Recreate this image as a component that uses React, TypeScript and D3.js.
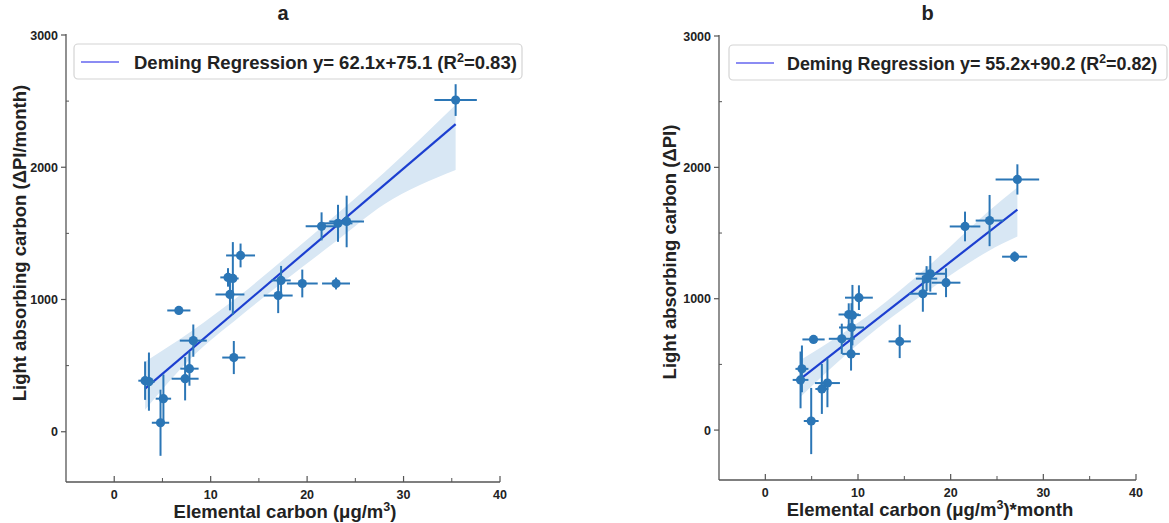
import React from "react";
import * as d3 from "d3";

// ---------- Panel a data ----------
const aX = [35.4, 21.5, 23.2, 24.1, 13.1, 11.8, 12.3, 12.0, 17.3, 17.0, 19.5, 23.0, 6.7, 8.2, 12.4, 7.8, 7.35, 3.2, 3.6, 5.1, 4.8];
const aY = [2508, 1553, 1576, 1590, 1333, 1167, 1159, 1038, 1144, 1030, 1121, 1121, 917, 689, 561, 477, 401, 386, 379, 250, 68];
const aXErr = [2.2, 1.65, 1.5, 1.8, 1.5, 0.8, 0.6, 1.5, 1.0, 1.5, 1.6, 1.45, 1.2, 1.4, 1.2, 0.95, 1.4, 0.7, 0.6, 0.8, 0.9];
const aYErr = [120, 106, 140, 195, 90, 70, 275, 120, 110, 133, 105, 45, 30, 122, 125, 129, 164, 145, 220, 183, 250];
const aLineX = [3.2, 35.4];
const aLineY = [326, 2326];
const aBandX = [3.2, 8, 13, 18, 23, 28, 35.4];
const aBandHi = [530, 760, 1030, 1330, 1640, 1960, 2472];
const aBandLo = [167, 560, 870, 1160, 1440, 1720, 1980];

// ---------- Panel b data ----------
const bX = [27.2, 21.55, 24.2, 26.9, 17.8, 17.4, 19.5, 17.0, 10.1, 9.0, 9.4, 9.3, 9.25, 8.25, 5.2, 14.5, 3.95, 3.8, 6.1, 6.7, 4.95];
const bY = [1908, 1550, 1595, 1320, 1190, 1153, 1122, 1038, 1008, 880, 875, 781, 580, 695, 690, 675, 466, 382, 313, 358, 69];
const bXErr = [2.35, 1.65, 1.5, 1.35, 1.6, 1.15, 1.55, 1.5, 1.5, 1.1, 0.9, 1.35, 0.95, 1.4, 1.2, 1.2, 0.7, 0.85, 0.7, 1.35, 0.8];
const bYErr = [115, 113, 195, 40, 136, 95, 110, 137, 94, 85, 230, 185, 127, 115, 25, 127, 178, 216, 190, 184, 252];
const bLineX = [3.8, 27.2];
const bLineY = [390, 1679];
const bBandX = [3.8, 8, 12, 16, 20, 24, 27.2];
const bBandHi = [534, 720, 920, 1150, 1400, 1660, 1847];
const bBandLo = [254, 530, 770, 980, 1180, 1360, 1473];

const xTicks = [0, 10, 20, 30, 40];
const xMinor = [5, 15, 25, 35];
const yTicks = [0, 1000, 2000, 3000];
const yMinor = [500, 1500, 2500];

const FONT = "Arial, 'Liberation Sans', Helvetica, sans-serif";
const PT = "#2b76b6";
const LINE = "#1c3fd0";
const BAND = "#d8e7f4";
const AX = "#555";
const TXT = "#222";

type PanelProps = {
  xs: number[]; ys: number[]; xe: number[]; ye: number[];
  lx: number[]; ly: number[];
  bx: number[]; bhi: number[]; blo: number[];
  x0: number; x1: number; yTop: number; yBot: number;
  title: string; slope: string; icpt: string; r2: string;
  legX: number; legW: number; legY: number; legFont: number; legText: number;
  yLabel: string; yLabelX: number; yLabelY: number;
  xLabelMain: string; xLabelTail: string; xLabelX: number;
};

function Panel(p: PanelProps) {
  const x = d3.scaleLinear().domain([-5, 40]).range([p.x0, p.x1]);
  const y = d3.scaleLinear().domain([-380, 3000]).range([p.yBot, p.yTop]);
  const idx = d3.range(p.xs.length);
  const area = d3.area<number>()
    .x((i) => x(p.bx[i]))
    .y0((i) => y(p.blo[i]))
    .y1((i) => y(p.bhi[i]))
    .curve(d3.curveMonotoneX);
  const line = d3.line<number>().x((i) => x(p.lx[i])).y((i) => y(p.ly[i]));
  const midX = (p.x0 + p.x1) / 2;
  return (
    <g>
      <text x={midX} y={20} textAnchor="middle" fontFamily={FONT} fontWeight="bold" fontSize={20} fill={TXT}>{p.title}</text>
      <path d={area(d3.range(p.bx.length)) || ""} fill={BAND} />
      <path d={line([0, 1]) || ""} stroke={LINE} strokeWidth={2.2} fill="none" />
      {idx.map((i) => (
        <g key={i} stroke={PT} strokeWidth={2}>
          <line x1={x(p.xs[i] - p.xe[i])} x2={x(p.xs[i] + p.xe[i])} y1={y(p.ys[i])} y2={y(p.ys[i])} />
          <line x1={x(p.xs[i])} x2={x(p.xs[i])} y1={y(p.ys[i] - p.ye[i])} y2={y(p.ys[i] + p.ye[i])} />
        </g>
      ))}
      {idx.map((i) => (
        <circle key={"c" + i} cx={x(p.xs[i])} cy={y(p.ys[i])} r={4.6} fill={PT} />
      ))}
      {/* spines */}
      <line x1={p.x0} x2={p.x0} y1={p.yTop - 1} y2={p.yBot} stroke={AX} strokeWidth={1.3} />
      <line x1={p.x0} x2={p.x1} y1={p.yBot} y2={p.yBot} stroke={AX} strokeWidth={1.3} />
      {yTicks.map((t) => (
        <g key={"yt" + t}>
          <line x1={p.x0 - 5} x2={p.x0} y1={y(t)} y2={y(t)} stroke={AX} strokeWidth={1.2} />
          <text x={p.x0 - 8} y={y(t) + 4.5} textAnchor="end" fontFamily={FONT} fontWeight="bold" fontSize={12.5} fill={TXT}>{t}</text>
        </g>
      ))}
      {yMinor.map((t) => (
        <line key={"ym" + t} x1={p.x0} x2={p.x0 + 3} y1={y(t)} y2={y(t)} stroke={AX} strokeWidth={1} />
      ))}
      {xTicks.map((t) => (
        <g key={"xt" + t}>
          <line x1={x(t)} x2={x(t)} y1={p.yBot} y2={p.yBot - 6} stroke={AX} strokeWidth={1.2} />
          <text x={x(t)} y={p.yBot + 17} textAnchor="middle" fontFamily={FONT} fontWeight="bold" fontSize={12.5} fill={TXT}>{t}</text>
        </g>
      ))}
      {xMinor.map((t) => (
        <line key={"xm" + t} x1={x(t)} x2={x(t)} y1={p.yBot} y2={p.yBot - 4} stroke={AX} strokeWidth={1} />
      ))}
      {/* axis labels */}
      <text x={p.xLabelX} y={p.yBot + 36} textAnchor="middle" fontFamily={FONT} fontWeight="bold" fontSize={18.5} fill={TXT}>
        {p.xLabelMain}
        <tspan dy={-7} fontSize={12.5}>3</tspan>
        <tspan dy={7}>{p.xLabelTail}</tspan>
      </text>
      <text transform={`translate(${p.yLabelX},${p.yLabelY}) rotate(-90)`} textAnchor="middle" fontFamily={FONT} fontWeight="bold" fontSize={18.5} fill={TXT}>{p.yLabel}</text>
      {/* legend */}
      <rect x={p.legX} y={p.legY} width={p.legW} height={35} rx={4} fill="white" stroke="#d4d4d4" strokeWidth={1.2} />
      <line x1={p.legX + 7} x2={p.legX + 45} y1={p.legY + 18} y2={p.legY + 18} stroke="#8b8cf3" strokeWidth={2} />
      <text x={p.legX + p.legText} y={p.legY + 24.5} fontFamily={FONT} fontWeight="bold" fontSize={p.legFont} fill={TXT}>
        {`Deming Regression y= ${p.slope}x+${p.icpt} (R`}
        <tspan dy={-7} fontSize={p.legFont * 0.68}>2</tspan>
        <tspan dy={7}>{`=${p.r2})`}</tspan>
      </text>
    </g>
  );
}

export default function App() {
  return (
    <svg width={1169} height={523} style={{ position: "absolute", left: 0, top: 0, background: "white" }}>
      <Panel xs={aX} ys={aY} xe={aXErr} ye={aYErr} lx={aLineX} ly={aLineY}
        bx={aBandX} bhi={aBandHi} blo={aBandLo}
        x0={66} x1={500} yTop={35} yBot={482}
        title="a" slope="62.1" icpt="75.1" r2="0.83"
        legX={74} legW={448} legY={44} legFont={18.5} legText={60}
        yLabel="Light absorbing carbon (ΔPI/month)" yLabelX={26} yLabelY={243}
        xLabelMain="Elemental carbon (μg/m" xLabelTail=")" xLabelX={285} />
      <Panel xs={bX} ys={bY} xe={bXErr} ye={bYErr} lx={bLineX} ly={bLineY}
        bx={bBandX} bhi={bBandHi} blo={bBandLo}
        x0={719} x1={1136} yTop={36} yBot={480}
        title="b" slope="55.2" icpt="90.2" r2="0.82"
        legX={729} legW={438} legY={45} legFont={17.9} legText={58}
        yLabel="Light absorbing carbon (ΔPI)" yLabelX={676} yLabelY={252}
        xLabelMain="Elemental carbon (μg/m" xLabelTail=")*month" xLabelX={930} />
    </svg>
  );
}
